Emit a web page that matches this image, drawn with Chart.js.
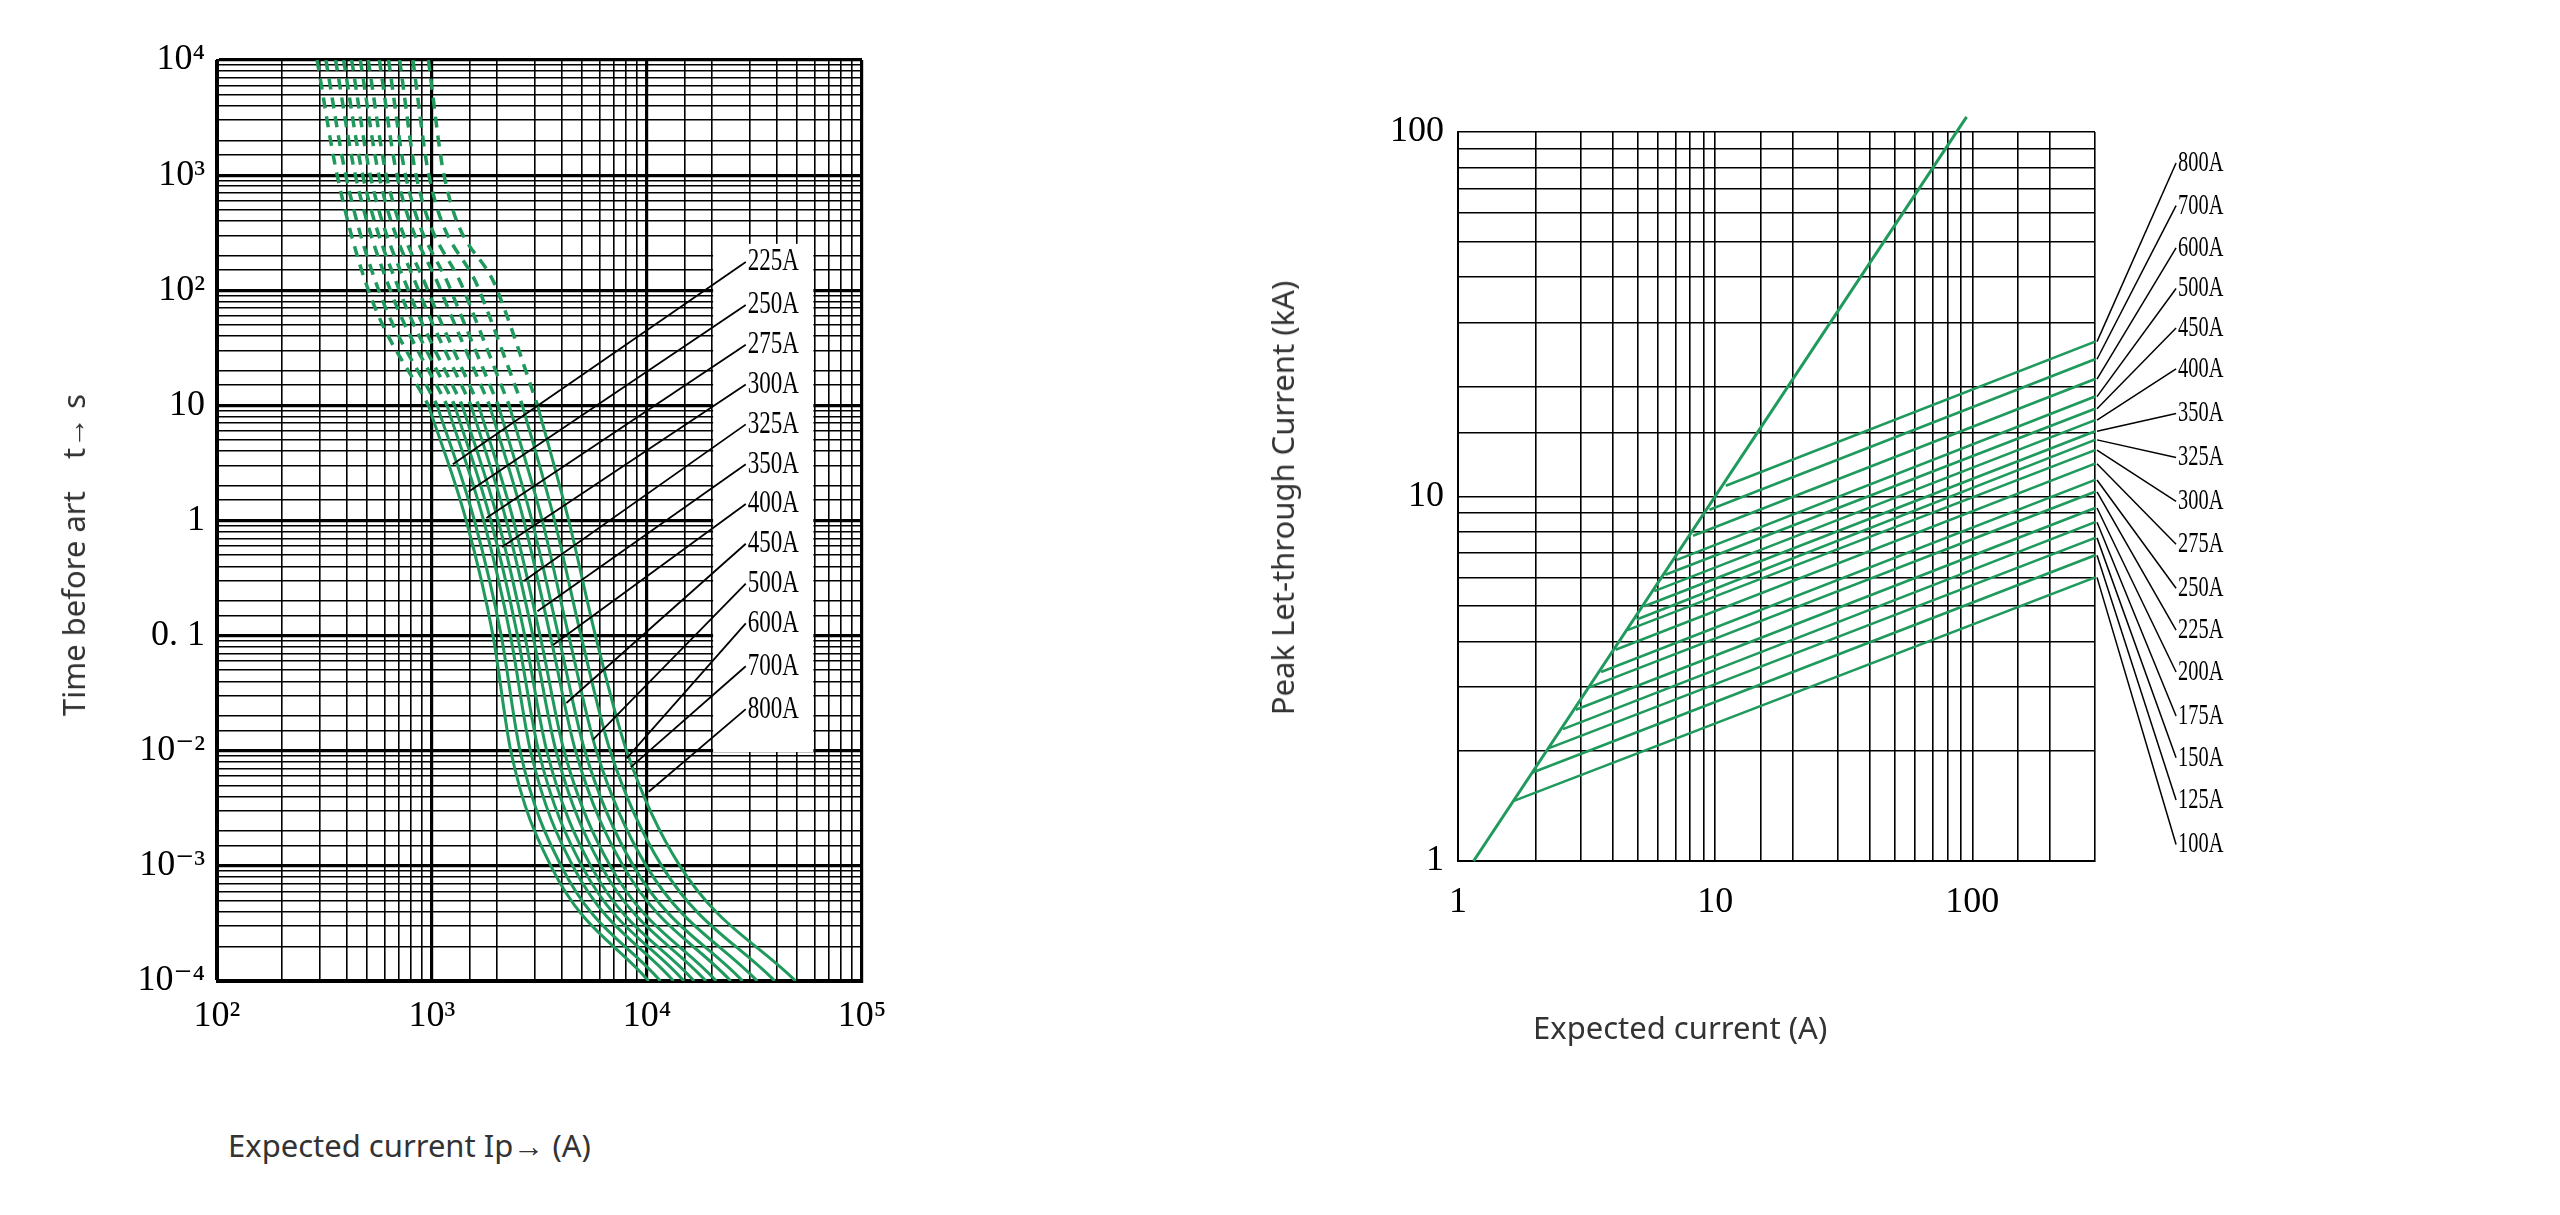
<!DOCTYPE html>
<html><head><meta charset="utf-8">
<script src="https://cdn.jsdelivr.net/npm/chart.js@4.4.1/dist/chart.umd.min.js"></script>
<style>
html,body{margin:0;padding:0;background:#fff;width:2560px;height:1215px;overflow:hidden;position:relative;font-family:"Noto Sans",sans-serif}
canvas{position:absolute}
.t{position:absolute;color:#333;font-size:31px;white-space:nowrap;font-family:"Noto Sans",sans-serif}
</style></head><body>
<canvas id="c1" width="1000" height="1100" style="left:0;top:0"></canvas>
<canvas id="c2" width="1000" height="1100" style="left:1300px;top:0"></canvas>
<div class="t" style="left:228px;top:1124px">Expected current Ip→ (A)</div>
<div class="t" style="left:73px;top:555px;transform:translate(-50%,-50%) rotate(-90deg)">Time before art&nbsp;&nbsp;&nbsp;&nbsp;t→ s</div>
<div class="t" style="left:1533px;top:1006px">Expected current (A)</div>
<div class="t" style="left:1282px;top:498px;transform:translate(-50%,-50%) rotate(-90deg)">Peak Let-through Current (kA)</div>
<script>
// ---------- Left chart data ----------
const fuseNames = ['225A','250A','275A','300A','325A','350A','400A','450A','500A','600A','700A','800A'];
const meltTimes = [1e4,1e3,100,10,1,0.1,0.01,1e-3,1e-4];
const c225 = [292,362,506,962,1442,1922,2324,3570,10180];
const c250 = [321,397,565,1056,1575,2099,2566,3988,11540];
const c275 = [356,440,640,1174,1739,2316,2870,4516,13300];
const c300 = [388,476,705,1274,1877,2499,3130,4973,14850];
const c325 = [423,516,776,1382,2029,2700,3416,5476,16570];
const c350 = [464,566,866,1518,2215,2946,3772,6112,18800];
const c400 = [505,613,956,1648,2392,3183,4113,6744,20990];
const c450 = [569,687,1098,1852,2671,3550,4648,7743,24530];
const c500 = [628,753,1224,2034,2916,3875,5136,8640,27820];
const c600 = [707,843,1407,2286,3256,4325,5810,9925,32580];
const c700 = [815,967,1660,2632,3715,4932,6740,11710,39290];
const c800 = [962,1137,2013,3097,4325,5757,8035,14220,49100];
const meltCurves = [c225,c250,c275,c300,c325,c350,c400,c450,c500,c600,c700,c800];
const leftLabelX = 28800;
const leftLabelT = [176,74.5,33.6,15.2,6.84,3.08,1.39,0.628,0.283,0.128,0.0542,0.023];
const leftLeaderX = [1250,1479,1791,2113,2684,3093,3654,4217,5610,8035,8410,10180];
const leftLeaderT = [3.08,1.78,1.05,0.59,0.30,0.163,0.083,0.026,0.0125,0.0086,0.0072,0.0044];
const leftBox = {x0:20300,x1:59400,y0:253,y1:0.00975};
const leftXTicks = {100:'10²',1000:'10³',10000:'10⁴',100000:'10⁵'};
const leftYTicks = {10000:'10⁴',1000:'10³',100:'10²',10:'10',1:'1',0.1:'0. 1',0.01:'10⁻²',0.001:'10⁻³',0.0001:'10⁻⁴'};

// ---------- Right chart data ----------
const ltNames = ['800A','700A','600A','500A','450A','400A','350A','325A','300A','275A','250A','225A','200A','175A','150A','125A','100A'];
const ltStartX = [11.0,9.5,8.2,7.1,6.4,5.8,5.3,4.95,4.56,4.1,3.6,3.25,2.87,2.56,2.26,1.95,1.64];
const ltStartY = [10.7,9.2,7.8,6.7,6.1,5.5,5.0,4.6,4.3,3.8,3.3,3.0,2.6,2.3,2.04,1.75,1.46];
const ltEndX = 300;
const ltEndY = [26.6,23.8,21,18.8,17.4,16.2,15.1,14.3,13.4,12.3,11.1,10.3,9.3,8.5,7.7,6.9,6.0];
const diagX = [1.15,95];
const diagY = [1,110];
const rightLabelX = 620;
const rightLabelY = [82.2,62.8,48.1,37.2,29.0,22.4,16.9,12.8,9.7,7.4,5.6,4.3,3.3,2.5,1.92,1.47,1.11];
const rightXTicks = {1:'1',10:'10',100:'100'};
const rightYTicks = {1:'1',10:'10',100:'100'};

const GREEN = '#1f9a5c';
const serif = '"Liberation Serif", "DejaVu Serif", serif';

function condText(ctx, txt, x, y, size, sx){
  ctx.save(); ctx.translate(x,y); ctx.scale(sx,1);
  ctx.font = size+'px '+serif; ctx.fillStyle='#000'; ctx.textBaseline='middle'; ctx.textAlign='left';
  ctx.fillText(txt,0,0); ctx.restore();
}
function isDecade(v){const l=Math.log10(v);return Math.abs(l-Math.round(l))<1e-6;}

// ---------- Left chart ----------
const leftSets = [];
meltCurves.forEach((arr,i)=>{
  const pts = arr.map((x,j)=>({x:x,y:meltTimes[j]}));
  leftSets.push({data:pts.slice(0,4),borderColor:GREEN,borderWidth:3.5,borderDash:[11,8],pointRadius:0,showLine:true,cubicInterpolationMode:'monotone'});
  leftSets.push({data:pts.slice(3),borderColor:GREEN,borderWidth:3,pointRadius:0,showLine:true,cubicInterpolationMode:'monotone'});
});
const leftPlugin = {
  id:'leftLabels',
  beforeDatasetsDraw(ch){
    const {ctx,scales:{x,y}}=ch;
    ctx.save(); ctx.fillStyle='#fff';
    const X0=x.getPixelForValue(leftBox.x0),X1=x.getPixelForValue(leftBox.x1),Y0=y.getPixelForValue(leftBox.y0),Y1=y.getPixelForValue(leftBox.y1);
    ctx.fillRect(X0,Y0,X1-X0,Y1-Y0); ctx.restore();
  },
  afterDatasetsDraw(ch){
    const {ctx,scales:{x,y}}=ch;
    ctx.save(); ctx.strokeStyle='#000'; ctx.lineWidth=1.8;
    fuseNames.forEach((n,i)=>{
      ctx.beginPath();
      ctx.moveTo(x.getPixelForValue(leftLeaderX[i]),y.getPixelForValue(leftLeaderT[i]));
      ctx.lineTo(x.getPixelForValue(leftLabelX),y.getPixelForValue(leftLabelT[i]));
      ctx.stroke();
      condText(ctx,n,x.getPixelForValue(leftLabelX)+2,y.getPixelForValue(leftLabelT[i]),32,0.72);
    });
    ctx.restore();
  }
};
new Chart(document.getElementById('c1'),{
  type:'scatter',
  data:{datasets:leftSets},
  options:{responsive:false,devicePixelRatio:1,animation:false,
    layout:{padding:{left:0,top:60,right:138,bottom:0}},
    plugins:{legend:{display:false},tooltip:{enabled:false}},
    scales:{
      x:{type:'logarithmic',min:100,max:100000,
        afterFit:s=>{s.height=119;},
        border:{color:'#000',width:3},
        grid:{color:'#000',lineWidth:c=>isDecade(c.tick.value)?3.2:1.6,drawTicks:false},
        ticks:{autoSkip:false,maxRotation:0,padding:14,color:'#000',font:{family:serif,size:36},callback:v=>leftXTicks[v]||''}},
      y:{type:'logarithmic',min:0.0001,max:10000,
        afterFit:s=>{s.width=217;},
        border:{color:'#000',width:3},
        grid:{color:'#000',lineWidth:c=>isDecade(c.tick.value)?3.2:1.6,drawTicks:false},
        ticks:{autoSkip:false,padding:12,color:'#000',font:{family:serif,size:36},callback:v=>{for(const k in leftYTicks){if(Math.abs(+k-v)/v<1e-6)return leftYTicks[k];}return '';}}}
    }},
  plugins:[leftPlugin]
});

// ---------- Right chart ----------
const rightSets = [{data:diagX.map((x,i)=>({x:x,y:diagY[i]})),borderColor:GREEN,borderWidth:3,pointRadius:0,showLine:true,clip:false}];
ltNames.forEach((n,i)=>{
  rightSets.push({data:[{x:ltStartX[i],y:ltStartY[i]},{x:ltEndX,y:ltEndY[i]}],borderColor:GREEN,borderWidth:2.6,pointRadius:0,showLine:true});
});
const rightPlugin = {
  id:'rightLabels',
  afterDraw(ch){
    const {ctx,scales:{x,y}}=ch;
    ctx.save(); ctx.strokeStyle='#000'; ctx.lineWidth=1.5;
    ltNames.forEach((n,i)=>{
      const lx=x.getPixelForValue(rightLabelX), ly=y.getPixelForValue(rightLabelY[i]);
      ctx.beginPath();
      ctx.moveTo(x.getPixelForValue(ltEndX)+2,y.getPixelForValue(ltEndY[i]));
      ctx.lineTo(lx,ly); ctx.stroke();
      condText(ctx,n,lx+2,ly,30,0.68);
    });
    ctx.restore();
  }
};
new Chart(document.getElementById('c2'),{
  type:'scatter',
  data:{datasets:rightSets},
  options:{responsive:false,devicePixelRatio:1,animation:false,
    layout:{padding:{left:0,top:132,right:205,bottom:0}},
    plugins:{legend:{display:false},tooltip:{enabled:false}},
    scales:{
      x:{type:'logarithmic',min:1,max:300,
        afterFit:s=>{s.height=239;},
        border:{color:'#000',width:2},
        grid:{color:'#000',lineWidth:1.6,drawTicks:false},
        ticks:{autoSkip:false,maxRotation:0,padding:20,color:'#000',font:{family:serif,size:36},callback:v=>rightXTicks[v]||''}},
      y:{type:'logarithmic',min:1,max:100,
        afterFit:s=>{s.width=158;},
        border:{color:'#000',width:2},
        grid:{color:'#000',lineWidth:1.6,drawTicks:false},
        ticks:{autoSkip:false,padding:14,color:'#000',font:{family:serif,size:36},callback:v=>rightYTicks[v]||''}}
    }},
  plugins:[rightPlugin]
});
</script>
</body></html>
